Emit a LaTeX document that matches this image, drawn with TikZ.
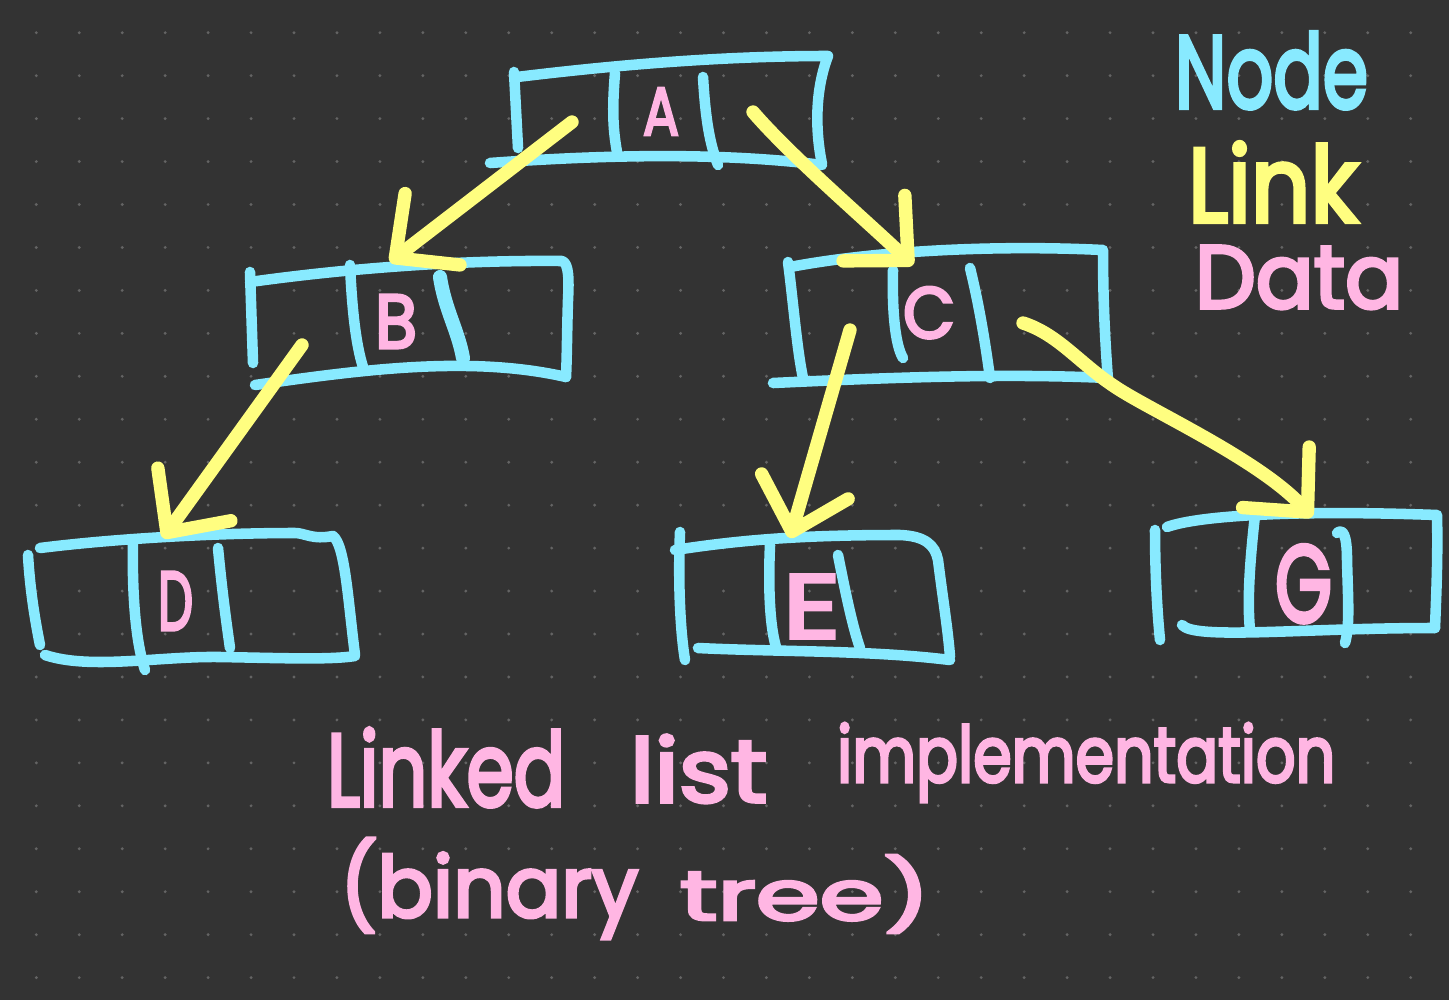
\documentclass[tikz,border=0pt]{standalone}
\usepackage{fontspec}
\newfontfamily\hand{Poppins}[FakeBold=4]
\usetikzlibrary{arrows.meta}
\definecolor{bgc}{RGB}{51,51,51}
\definecolor{dotc}{RGB}{100,100,100}
\definecolor{cyanc}{RGB}{136,234,255}
\definecolor{yelc}{RGB}{255,254,128}
\definecolor{pinkc}{RGB}{255,182,227}
\begin{document}
\begin{tikzpicture}[x=0.01cm,y=-0.01cm,
  boxline/.style={draw=cyanc, line width=3pt, line cap=round, line join=round},
  link/.style={draw=yelc, line width=3.8pt, line cap=round, line join=round,
    -{Straight Barb[length=0.47cm,width=0.9cm,round]}},
  lbl/.style={anchor=base west, inner sep=0pt, outer sep=0pt},
  ]
\useasboundingbox (0,0) rectangle (1449,1000);
\fill[bgc] (0,0) rectangle (1449,1000);
\foreach \i in {0,...,33}{\foreach \j in {0,...,22}{
  \fill[dotc] ({36.3+42.95*\i},{32.7+42.95*\j}) circle[radius=1.6];}}

% ---------- box A
\draw[boxline] (517,77) .. controls (640,62) and (740,56) .. (828,56)
  .. controls (815,90) and (815,130) .. (822,164);
\draw[boxline] (490,163) .. controls (600,155) and (720,152) .. (822,165);
\draw[boxline] (514,72) -- (518,148);
\draw[boxline] (615,73) .. controls (612,110) and (613,130) .. (617,152);
\draw[boxline] (703,77) .. controls (705,110) and (708,140) .. (718,165);
\node[lbl, text=pinkc] (A) at (643,135) {\resizebox{0.36cm}{0.47cm}{\hand A}};

% ---------- box B
\draw[boxline] (250,282) .. controls (350,268) and (460,260) .. (562,261)
  .. controls (569,263) and (569,280) .. (568,300)
  .. controls (567,330) and (567,355) .. (566,377);
\draw[boxline] (255,385) .. controls (360,370) and (470,355) .. (566,377);
\draw[boxline] (250,272) -- (253,363);
\draw[boxline] (350,265) .. controls (352,310) and (356,345) .. (363,367);
\draw[boxline, line width=4pt] (440,277) .. controls (445,310) and (458,330) .. (463,358);
\node[lbl, text=pinkc] (B) at (375,348) {\resizebox{0.42cm}{0.53cm}{\hand B}};

% ---------- box C
\draw[boxline] (790,267) .. controls (880,250) and (1000,245) .. (1103,250)
  .. controls (1103,300) and (1105,340) .. (1108,380);
\draw[boxline] (773,383) .. controls (880,378) and (1000,373) .. (1108,378);
\draw[boxline] (788,262) .. controls (793,300) and (797,350) .. (803,378);
\draw[boxline] (893,270) .. controls (892,310) and (895,345) .. (903,358);
\draw[boxline] (970,268) .. controls (978,300) and (985,340) .. (990,378);
\node[lbl, text=pinkc] (C) at (903,338) {\resizebox{0.52cm}{0.51cm}{\hand C}};

% ---------- box D
\draw[boxline] (40,548) .. controls (120,538) and (220,533) .. (295,533)
  .. controls (305,533) and (312,540) .. (333,536)
  .. controls (345,545) and (348,600) .. (355,655);
\draw[boxline] (45,655) .. controls (90,670) and (160,656) .. (220,657)
  .. controls (280,658) and (330,660) .. (355,656);
\draw[boxline] (28,555) .. controls (30,590) and (35,620) .. (40,645);
\draw[boxline] (133,540) .. controls (132,590) and (135,640) .. (145,670);
\draw[boxline] (218,548) .. controls (222,590) and (226,620) .. (230,648);
\node[lbl, text=pinkc] (D) at (158,630) {\resizebox{0.35cm}{0.58cm}{\hand D}};

% ---------- box E
\draw[boxline] (675,550) .. controls (740,540) and (800,535) .. (900,535)
  .. controls (925,536) and (935,545) .. (938,560)
  .. controls (943,600) and (948,630) .. (950,657);
\draw[boxline] (698,648) .. controls (780,652) and (870,650) .. (950,660);
\draw[boxline] (680,532) .. controls (678,580) and (680,630) .. (685,660);
\draw[boxline] (770,545) .. controls (768,590) and (770,630) .. (777,650);
\draw[boxline] (838,555) .. controls (845,590) and (852,625) .. (860,648);
\node[lbl, text=pinkc] (E) at (783,638) {\resizebox{0.57cm}{0.63cm}{\hand E}};

% ---------- box G
\draw[boxline] (1167,527) .. controls (1200,515) and (1300,510) .. (1437,515)
  .. controls (1438,560) and (1436,600) .. (1435,628);
\draw[boxline] (1182,625) .. controls (1195,640) and (1300,628) .. (1435,628);
\draw[boxline] (1155,530) .. controls (1155,570) and (1157,610) .. (1160,640);
\draw[boxline] (1255,515) .. controls (1250,560) and (1247,600) .. (1250,630);
\draw[boxline] (1337,533) .. controls (1343,528) and (1347,535) .. (1347,560)
  .. controls (1348,600) and (1350,625) .. (1345,643);
\node[lbl, text=pinkc] (G) at (1275,622) {\resizebox{0.57cm}{0.77cm}{\hand G}};

% ---------- link end points
\coordinate (A-l) at (572,122);
\coordinate (A-r) at (753,112);
\coordinate (B-in) at (390,262);
\coordinate (C-in) at (913,265);
\coordinate (B-r) at (302,345);
\coordinate (D-in) at (163,538);
\coordinate (C-l) at (850,330);
\coordinate (C-r) at (1023,323);
\coordinate (C-G) at (1120,390);
\coordinate (E-in) at (790,538);
\coordinate (G-in) at (1312,517);

\draw[link] (A-l) -- (B-in);
\draw[link] (A-r) .. controls (790,155) and (860,215) .. (C-in);
\draw[link] (B-r) -- (D-in);
\draw[link] (C-l) -- (E-in);
\draw[link] (C-r) .. controls (1060,335) and (1080,365) .. (C-G)
  .. controls (1160,415) and (1262,462) .. (G-in);

% ---------- legend
\node[lbl, text=cyanc] (legnode) at (1175,108) {\resizebox{1.93cm}{0.76cm}{\hand Node}};
\node[lbl, text=yelc] (leglink) at (1188,222) {\resizebox{1.70cm}{0.80cm}{\hand Link}};
\node[lbl, text=pinkc] (legdata) at (1195,308) {\resizebox{2.08cm}{0.62cm}{\hand Data}};

% ---------- caption
\node[lbl, text=pinkc] (cap1) at (327,806) {\resizebox{2.38cm}{0.78cm}{\hand Linked}};
\node[lbl, text=pinkc] (cap2) at (630,802) {\resizebox{1.37cm}{0.67cm}{\hand list}};
\node[lbl, text=pinkc] (cap3) at (837,782) {\resizebox{4.98cm}{0.59cm}{\hand implementation}};
\node[lbl, text=pinkc] (cap4) at (340,917) {\resizebox{2.98cm}{0.79cm}{\hand (binary}};
\node[lbl, text=pinkc] (cap5) at (680,920) {\resizebox{2.50cm}{0.65cm}{\hand tree)}};
\end{tikzpicture}
\end{document}
